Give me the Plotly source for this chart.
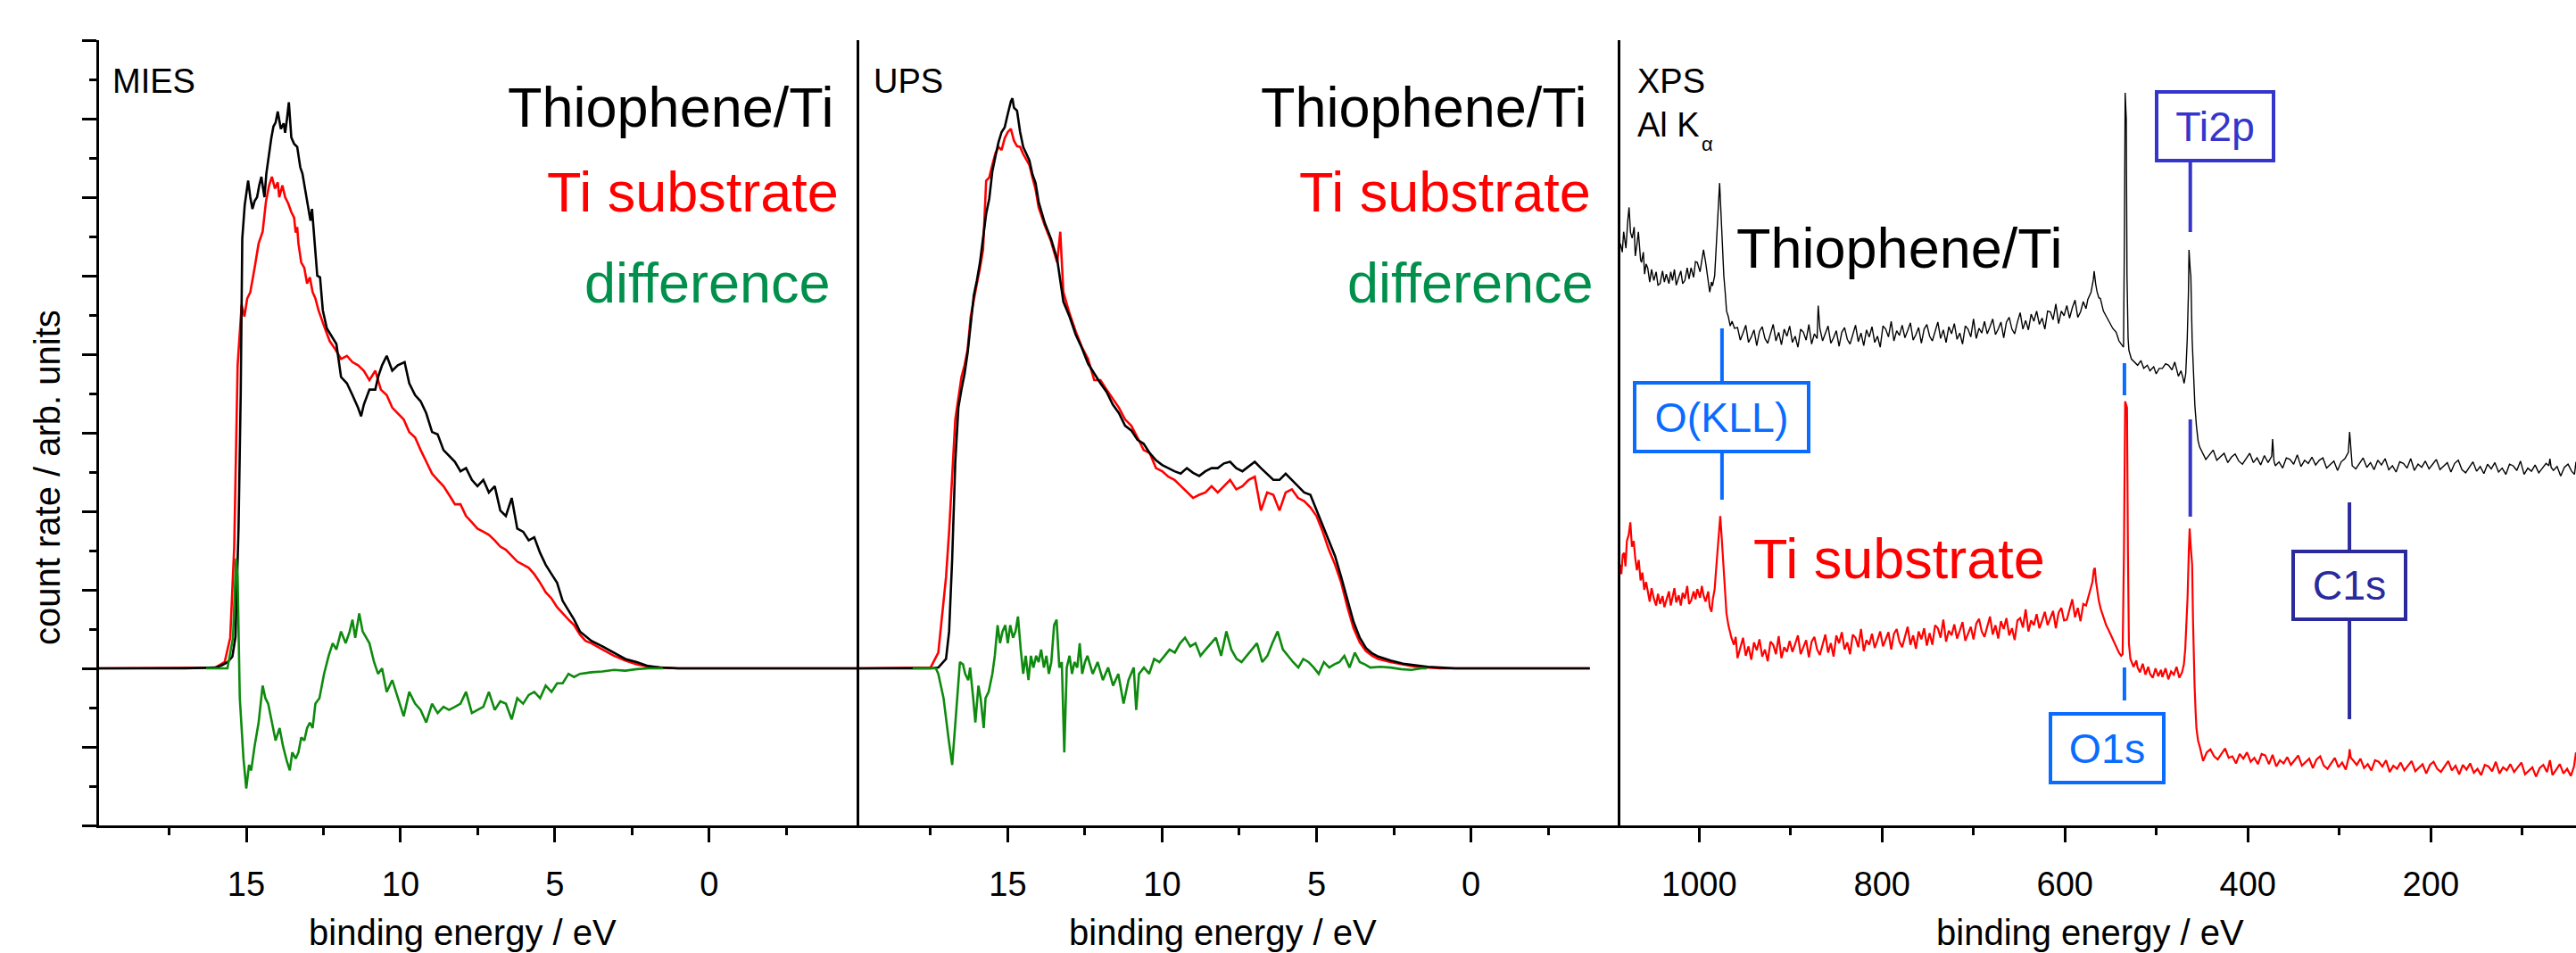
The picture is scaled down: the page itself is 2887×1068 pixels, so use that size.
import plotly.graph_objects as go

# ---------------- data (binding energy / eV, count rate / arb. units) ----------------
mies_film = [(19.77, 0.0), (17.0, 0.0), (16.0, 0.01), (15.79, 0.04), (15.6, 0.08), (15.45, 0.15), (15.35, 0.4),
             (15.25, 1.8), (15.18, 3.5), (15.13, 5.47), (15.05, 5.9), (14.99, 6.05), (14.94, 6.21), (14.87, 6.0),
             (14.8, 5.85), (14.73, 5.95), (14.65, 6.0), (14.58, 6.15), (14.51, 6.26), (14.45, 6.1), (14.41, 6.0),
             (14.35, 6.3), (14.26, 6.57), (14.19, 6.75), (14.12, 6.90), (14.05, 6.95), (13.98, 7.09), (13.92, 6.95),
             (13.88, 6.87), (13.79, 6.94), (13.74, 6.82), (13.68, 7.0), (13.62, 7.21), (13.54, 6.76), (13.45, 6.68),
             (13.35, 6.64), (13.25, 6.38), (13.18, 6.3), (13.11, 6.15), (13.01, 5.92), (12.92, 5.70), (12.87, 5.85),
             (12.79, 5.4), (12.70, 5.0), (12.61, 4.98), (12.52, 4.56), (12.39, 4.33), (12.20, 4.21), (12.08, 4.13),
             (11.93, 3.71), (11.74, 3.63), (11.56, 3.48), (11.38, 3.32), (11.28, 3.21), (11.19, 3.36), (11.01, 3.55),
             (10.82, 3.55), (10.73, 3.71), (10.60, 3.86), (10.45, 3.98), (10.27, 3.79), (10.09, 3.86), (9.87, 3.90),
             (9.72, 3.63), (9.53, 3.48), (9.35, 3.40), (9.17, 3.25), (8.98, 3.01), (8.80, 2.98), (8.61, 2.78),
             (8.43, 2.71), (8.24, 2.63), (8.06, 2.51), (7.88, 2.55), (7.69, 2.40), (7.51, 2.32), (7.32, 2.40),
             (7.14, 2.24), (6.95, 2.32), (6.77, 2.01), (6.59, 1.94), (6.40, 2.17), (6.22, 1.78), (6.03, 1.74),
             (5.85, 1.63), (5.67, 1.67), (5.48, 1.47), (5.30, 1.32), (5.11, 1.20), (4.93, 1.09), (4.75, 0.86),
             (4.56, 0.74), (4.38, 0.62), (4.19, 0.47), (3.82, 0.35), (3.46, 0.28), (3.09, 0.20), (2.72, 0.12),
             (2.35, 0.08), (1.98, 0.03), (1.61, 0.01), (1.0, 0.0), (-4.86, 0.0)]

mies_sub = [(19.77, 0.0), (16.0, 0.01), (15.70, 0.08), (15.52, 0.39), (15.39, 1.55), (15.28, 3.86), (15.15, 4.63),
            (15.06, 4.48), (14.97, 4.71), (14.87, 4.79), (14.73, 5.10), (14.60, 5.41), (14.47, 5.56), (14.36, 5.95),
            (14.26, 6.15), (14.17, 6.26), (14.07, 6.11), (13.98, 6.19), (13.93, 6.0), (13.83, 6.15), (13.74, 6.0),
            (13.64, 5.92), (13.54, 5.81), (13.45, 5.74), (13.40, 5.55), (13.35, 5.62), (13.31, 5.41), (13.22, 5.17),
            (13.12, 5.10), (13.03, 4.90), (12.94, 4.98), (12.85, 4.79), (12.76, 4.71), (12.66, 4.56), (12.48, 4.36),
            (12.30, 4.17), (12.11, 4.06), (11.93, 3.94), (11.74, 3.98), (11.56, 3.90), (11.38, 3.86), (11.19, 3.79),
            (11.01, 3.67), (10.82, 3.79), (10.64, 3.55), (10.45, 3.48), (10.27, 3.32), (10.09, 3.25), (9.90, 3.17),
            (9.72, 3.01), (9.53, 2.94), (9.35, 2.78), (9.17, 2.63), (8.98, 2.48), (8.80, 2.40), (8.61, 2.32),
            (8.43, 2.21), (8.24, 2.09), (8.06, 2.09), (7.88, 1.94), (7.69, 1.86), (7.51, 1.78), (7.32, 1.74),
            (7.14, 1.70), (6.95, 1.63), (6.77, 1.55), (6.59, 1.51), (6.40, 1.43), (6.22, 1.36), (6.03, 1.32),
            (5.85, 1.28), (5.67, 1.20), (5.48, 1.09), (5.30, 0.97), (5.11, 0.89), (4.93, 0.78), (4.75, 0.70),
            (4.56, 0.62), (4.38, 0.55), (4.19, 0.43), (4.01, 0.35), (3.82, 0.32), (3.46, 0.24), (3.09, 0.16),
            (2.72, 0.10), (2.35, 0.05), (1.98, 0.02), (1.61, 0.01), (1.0, 0.0), (-4.86, 0.0)]

mies_diff = [(16.3, 0.0), (15.61, 0.0), (15.43, 0.39), (15.33, 1.40), (15.28, 1.16), (15.21, -0.38), (15.09, -1.15),
             (15.00, -1.53), (14.91, -1.23), (14.84, -1.30), (14.73, -0.99), (14.60, -0.69), (14.47, -0.22),
             (14.38, -0.38), (14.29, -0.45), (14.17, -0.69), (14.05, -0.92), (13.92, -0.76), (13.81, -0.99),
             (13.68, -1.19), (13.59, -1.30), (13.51, -1.07), (13.40, -1.15), (13.31, -1.07), (13.22, -0.88),
             (13.12, -0.92), (13.03, -0.76), (12.94, -0.69), (12.85, -0.76), (12.76, -0.45), (12.63, -0.38),
             (12.48, -0.07), (12.33, 0.16), (12.20, 0.32), (12.08, 0.24), (11.93, 0.47), (11.78, 0.32), (11.65, 0.47),
             (11.56, 0.62), (11.47, 0.39), (11.34, 0.70), (11.23, 0.47), (11.10, 0.39), (11.01, 0.32), (10.86, 0.08),
             (10.73, -0.07), (10.60, 0.0), (10.45, -0.30), (10.27, -0.15), (10.09, -0.38), (9.90, -0.61),
             (9.72, -0.30), (9.53, -0.45), (9.35, -0.53), (9.17, -0.69), (8.98, -0.45), (8.80, -0.57), (8.61, -0.49),
             (8.43, -0.53), (8.24, -0.49), (8.06, -0.45), (7.88, -0.30), (7.69, -0.57), (7.51, -0.53), (7.32, -0.49),
             (7.14, -0.30), (6.95, -0.53), (6.77, -0.42), (6.59, -0.45), (6.40, -0.65), (6.22, -0.38), (6.03, -0.45),
             (5.85, -0.34), (5.67, -0.30), (5.48, -0.38), (5.30, -0.22), (5.11, -0.30), (4.93, -0.19), (4.75, -0.19),
             (4.56, -0.07), (4.38, -0.11), (4.19, -0.07), (3.82, -0.05), (3.46, -0.04), (3.09, -0.02), (2.72, -0.03),
             (2.35, -0.01), (1.98, 0.0), (1.5, 0.0)]

ups_film = [(19.81, 0.0), (17.5, 0.0), (17.25, 0.01), (17.0, 0.12), (16.9, 0.47), (16.8, 1.40), (16.7, 2.63),
            (16.6, 3.32), (16.5, 3.55), (16.4, 3.75), (16.3, 4.02), (16.2, 4.40), (16.1, 4.75), (16.0, 4.94),
            (15.9, 5.17), (15.8, 5.48), (15.7, 5.79), (15.6, 5.98), (15.5, 6.33), (15.4, 6.52), (15.3, 6.70),
            (15.2, 6.83), (15.1, 6.89), (15.0, 7.06), (14.9, 7.22), (14.85, 7.26), (14.8, 7.14), (14.7, 7.10),
            (14.6, 6.83), (14.5, 6.64), (14.4, 6.55), (14.3, 6.47), (14.2, 6.29), (14.1, 6.18), (14.0, 5.94),
            (13.8, 5.67), (13.6, 5.47), (13.4, 5.21), (13.2, 4.67), (13.0, 4.48), (12.8, 4.25), (12.6, 4.08),
            (12.4, 3.88), (12.2, 3.75), (12.0, 3.63), (11.8, 3.52), (11.6, 3.36), (11.4, 3.25), (11.2, 3.09),
            (11.0, 3.03), (10.8, 2.91), (10.6, 2.86), (10.4, 2.74), (10.2, 2.65), (10.0, 2.59), (9.8, 2.55),
            (9.6, 2.51), (9.4, 2.48), (9.2, 2.55), (9.0, 2.49), (8.8, 2.45), (8.6, 2.51), (8.4, 2.55), (8.2, 2.55),
            (8.0, 2.61), (7.8, 2.63), (7.6, 2.55), (7.4, 2.51), (7.2, 2.57), (7.0, 2.63), (6.8, 2.55), (6.6, 2.48),
            (6.4, 2.40), (6.2, 2.40), (6.0, 2.48), (5.8, 2.40), (5.6, 2.32), (5.4, 2.24), (5.2, 2.21), (5.0, 2.01),
            (4.8, 1.82), (4.6, 1.63), (4.4, 1.43), (4.2, 1.16), (4.0, 0.86), (3.8, 0.59), (3.6, 0.39), (3.4, 0.26),
            (3.2, 0.19), (3.0, 0.15), (2.6, 0.10), (2.2, 0.06), (1.8, 0.04), (1.4, 0.02), (1.0, 0.01), (0.5, 0.0),
            (-3.85, 0.0)]

ups_sub = [(19.81, 0.0), (17.5, 0.01), (17.25, 0.20), (17.0, 1.16), (16.9, 1.74), (16.8, 2.40), (16.7, 3.17),
           (16.6, 3.44), (16.5, 3.71), (16.4, 3.86), (16.3, 4.06), (16.2, 4.48), (16.1, 4.71), (16.0, 4.90),
           (15.9, 5.10), (15.8, 5.33), (15.7, 6.21), (15.6, 6.25), (15.5, 6.41), (15.4, 6.56), (15.3, 6.64),
           (15.2, 6.60), (15.1, 6.75), (15.0, 6.83), (14.9, 6.87), (14.8, 6.72), (14.7, 6.65), (14.6, 6.64),
           (14.5, 6.55), (14.4, 6.48), (14.3, 6.41), (14.2, 6.25), (14.1, 6.10), (14.0, 5.87), (13.8, 5.64),
           (13.6, 5.44), (13.4, 5.17), (13.3, 5.56), (13.2, 4.79), (13.0, 4.52), (12.8, 4.29), (12.6, 4.09),
           (12.4, 3.94), (12.2, 3.67), (12.0, 3.67), (11.8, 3.55), (11.6, 3.44), (11.4, 3.32), (11.2, 3.17),
           (11.0, 3.09), (10.8, 2.94), (10.6, 2.78), (10.4, 2.74), (10.2, 2.55), (10.0, 2.51), (9.8, 2.44),
           (9.6, 2.40), (9.4, 2.32), (9.2, 2.24), (9.0, 2.17), (8.8, 2.21), (8.6, 2.24), (8.4, 2.32), (8.2, 2.24),
           (8.0, 2.32), (7.8, 2.40), (7.6, 2.28), (7.4, 2.32), (7.2, 2.40), (7.0, 2.44), (6.8, 2.01), (6.6, 2.24),
           (6.4, 2.21), (6.2, 2.01), (6.0, 2.24), (5.8, 2.28), (5.6, 2.17), (5.4, 2.13), (5.2, 2.05), (5.0, 1.94),
           (4.8, 1.74), (4.6, 1.51), (4.4, 1.32), (4.2, 1.09), (4.0, 0.78), (3.8, 0.51), (3.6, 0.33), (3.4, 0.22),
           (3.2, 0.16), (3.0, 0.12), (2.6, 0.08), (2.2, 0.05), (1.8, 0.02), (1.0, 0.0), (-3.85, 0.0)]

ups_diff = [(18.08, 0.0), (17.33, 0.0), (17.25, -0.07), (17.08, -0.38), (16.91, -0.92), (16.80, -1.23),
            (16.71, -0.76), (16.61, -0.22), (16.55, 0.08), (16.45, 0.05), (16.38, -0.07), (16.28, -0.15),
            (16.22, 0.01), (16.12, -0.38), (16.05, -0.69), (15.95, -0.22), (15.88, -0.38), (15.78, -0.76),
            (15.72, -0.38), (15.62, -0.30), (15.50, -0.07), (15.42, 0.16), (15.33, 0.55), (15.25, 0.32),
            (15.17, 0.47), (15.08, 0.55), (15.00, 0.32), (14.92, 0.55), (14.83, 0.39), (14.75, 0.47), (14.67, 0.66),
            (14.58, 0.24), (14.50, -0.07), (14.42, 0.16), (14.33, -0.15), (14.25, 0.16), (14.17, 0.01),
            (14.08, 0.16), (14.0, 0.08), (13.92, 0.24), (13.83, 0.01), (13.75, 0.16), (13.67, -0.07), (13.59, 0.08),
            (13.50, 0.55), (13.42, 0.62), (13.33, 0.01), (13.25, 0.08), (13.17, -1.07), (13.09, 0.01), (13.0, 0.16),
            (12.92, -0.07), (12.84, 0.08), (12.75, 0.01), (12.67, 0.32), (12.59, -0.07), (12.50, 0.08),
            (12.42, 0.16), (12.25, -0.07), (12.09, 0.08), (11.92, -0.15), (11.75, 0.01), (11.59, -0.22),
            (11.42, -0.07), (11.25, -0.45), (11.09, -0.15), (10.92, 0.01), (10.84, -0.53), (10.75, -0.07),
            (10.59, 0.01), (10.42, -0.07), (10.26, 0.12), (10.09, 0.08), (9.92, 0.16), (9.76, 0.24), (9.59, 0.20),
            (9.42, 0.32), (9.26, 0.39), (9.09, 0.28), (8.92, 0.32), (8.76, 0.16), (8.59, 0.24), (8.42, 0.32),
            (8.26, 0.39), (8.09, 0.16), (7.92, 0.47), (7.76, 0.24), (7.59, 0.12), (7.43, 0.08), (7.26, 0.16),
            (7.09, 0.24), (6.93, 0.32), (6.76, 0.08), (6.59, 0.16), (6.43, 0.32), (6.26, 0.47), (6.09, 0.24),
            (5.93, 0.16), (5.76, 0.08), (5.59, 0.01), (5.43, 0.12), (5.26, 0.08), (5.09, 0.01), (4.93, -0.07),
            (4.76, 0.08), (4.59, 0.01), (4.43, 0.05), (4.26, 0.08), (4.10, 0.16), (3.93, 0.01), (3.76, 0.20),
            (3.60, 0.08), (3.43, 0.05), (3.26, 0.01), (2.93, 0.02), (2.60, 0.01), (2.27, -0.01), (1.93, -0.02),
            (1.60, 0.0), (1.43, 0.0)]

xps_film = [(1086.1, 5.41), (1084, 5.30), (1082.5, 5.56), (1080, 5.35), (1078, 5.70), (1076.6, 5.87), (1075, 5.55),
            (1073.2, 5.48), (1071, 5.62), (1069.8, 5.25), (1068, 5.40), (1066.4, 5.56), (1064, 5.20), (1063.0, 5.17),
            (1061, 5.30), (1059.6, 5.02), (1058, 5.15), (1056.2, 5.10), (1054, 4.92), (1052, 5.08), (1049.5, 4.94),
            (1047, 5.05), (1045, 4.88), (1042.7, 4.90), (1040, 5.06), (1038, 4.92), (1035.9, 5.02), (1033, 4.90),
            (1031, 5.05), (1029.1, 4.94), (1027, 5.08), (1025, 4.88), (1022.3, 4.98), (1020, 5.06), (1018, 4.90),
            (1015.6, 4.94), (1013, 5.10), (1011, 4.96), (1008.8, 5.10), (1006, 4.98), (1004, 5.18), (1002.0, 5.17),
            (999, 5.05), (997, 5.22), (995.2, 5.33), (993, 5.18), (991.8, 5.06), (990, 4.95), (988.4, 4.79),
            (986.5, 4.92), (985.3, 4.87), (983.0, 5.00), (981.7, 5.25), (979.6, 5.79), (977.6, 6.18), (976.5, 5.90),
            (974.9, 5.48), (973, 5.00), (971.5, 4.79), (970, 4.55), (968.1, 4.48), (966, 4.36), (964, 4.42),
            (961.3, 4.33), (958, 4.34), (955, 4.18), (952, 4.27), (949, 4.37), (946, 4.15), (943, 4.22), (940, 4.31),
            (937, 4.11), (934, 4.29), (931, 4.35), (928, 4.20), (925, 4.14), (922, 4.26), (919, 4.38), (916, 4.17),
            (913, 4.28), (910, 4.12), (907, 4.32), (904, 4.23), (901, 4.36), (898, 4.15), (895, 4.23), (892, 4.09),
            (889, 4.32), (886, 4.28), (883, 4.18), (880, 4.38), (877, 4.13), (874, 4.26), (871, 4.20), (869.8, 4.62),
            (868, 4.33), (865, 4.17), (862, 4.26), (859, 4.36), (856, 4.14), (853, 4.21), (850, 4.30), (847, 4.10),
            (844, 4.28), (841, 4.34), (838, 4.19), (835, 4.13), (832, 4.25), (829, 4.37), (826, 4.16), (823, 4.27),
            (820, 4.11), (817, 4.31), (814, 4.22), (811, 4.35), (808, 4.15), (805, 4.23), (802, 4.09), (799, 4.36),
            (796, 4.32), (793, 4.22), (790, 4.42), (787, 4.17), (784, 4.30), (781, 4.24), (778, 4.37), (775, 4.21),
            (772, 4.30), (769, 4.40), (766, 4.18), (763, 4.25), (760, 4.34), (757, 4.14), (754, 4.32), (751, 4.38),
            (748, 4.23), (745, 4.17), (742, 4.29), (739, 4.41), (736, 4.20), (733, 4.31), (730, 4.15), (727, 4.35),
            (724, 4.26), (721, 4.39), (718, 4.19), (715, 4.27), (712, 4.13), (709, 4.36), (706, 4.32), (703, 4.22),
            (700, 4.45), (697, 4.20), (694, 4.33), (691, 4.27), (688, 4.42), (685, 4.26), (682, 4.35), (679, 4.45),
            (676, 4.25), (673, 4.32), (670, 4.41), (667, 4.21), (664, 4.41), (661, 4.47), (658, 4.32), (655, 4.26),
            (652, 4.41), (649, 4.53), (646, 4.32), (643, 4.43), (640, 4.31), (637, 4.51), (634, 4.42), (631, 4.55),
            (628, 4.38), (625, 4.46), (622, 4.32), (619, 4.55), (616, 4.54), (613, 4.44), (610, 4.64), (607, 4.39),
            (604, 4.55), (601, 4.49), (598, 4.62), (595, 4.46), (592, 4.59), (589, 4.69), (586, 4.47), (583, 4.54),
            (580, 4.67), (577, 4.58), (575, 4.70), (573, 4.75), (571.5, 4.79), (569, 4.95), (568.1, 5.06),
            (566.5, 4.90), (565, 4.80), (563, 4.72), (561.3, 4.71), (558, 4.55), (554.5, 4.48), (551, 4.40),
            (547.8, 4.33), (544, 4.28), (541.0, 4.17), (538, 4.12), (536.0, 4.09), (535, 5.5), (534.2, 7.33),
            (533, 7.0), (532.2, 5.0), (531, 4.2), (530.1, 4.05), (527.4, 3.94), (524, 3.90), (520.6, 3.86),
            (517, 3.92), (513.9, 3.82), (510, 3.86), (507.1, 3.79), (503, 3.84), (500.3, 3.75), (497, 3.82),
            (493.5, 3.82), (490, 3.88), (486.7, 3.86), (483, 3.80), (480.0, 3.90), (476, 3.72), (473.2, 3.79),
            (471, 3.70), (469.8, 3.63), (468, 3.75), (466.4, 4.17), (465, 4.8), (464.4, 5.33), (463, 5.06),
            (462.4, 5.0), (461, 4.2), (459.6, 3.71), (458, 3.35), (456.3, 3.09), (454.5, 2.90), (452.8, 2.82),
            (450, 2.76), (446, 2.66), (442, 2.72), (438, 2.78), (434, 2.65), (430, 2.69), (426, 2.74), (422, 2.62),
            (418, 2.69), (414, 2.73), (410, 2.64), (406, 2.60), (402, 2.67), (398, 2.74), (394, 2.62), (390, 2.68),
            (386, 2.59), (382, 2.71), (378, 2.62), (374, 2.70), (373, 2.92), (371.5, 2.64), (370, 2.58), (366, 2.63),
            (362, 2.55), (358, 2.68), (354, 2.66), (350, 2.60), (346, 2.72), (342, 2.57), (338, 2.65), (334, 2.61),
            (330, 2.69), (326, 2.59), (322, 2.65), (318, 2.68), (314, 2.55), (310, 2.59), (306, 2.64), (302, 2.52),
            (298, 2.63), (294, 2.67), (290.2, 2.75), (288.8, 3.01), (287.5, 2.80), (286, 2.58), (282, 2.54),
            (278, 2.61), (274, 2.68), (270, 2.56), (266, 2.62), (262, 2.53), (258, 2.65), (254, 2.59), (250, 2.67),
            (246, 2.53), (242, 2.58), (238, 2.50), (234, 2.63), (230, 2.61), (226, 2.55), (222, 2.67), (218, 2.52),
            (214, 2.60), (210, 2.56), (206, 2.64), (202, 2.54), (198, 2.60), (194, 2.66), (190, 2.53), (186, 2.57),
            (182, 2.62), (178, 2.50), (174, 2.61), (170, 2.65), (166, 2.53), (162, 2.49), (158, 2.56), (154, 2.63),
            (150, 2.51), (146, 2.57), (142, 2.48), (138, 2.60), (134, 2.54), (130, 2.62), (126, 2.50), (122, 2.55),
            (118, 2.47), (114, 2.60), (110, 2.58), (106, 2.52), (102, 2.64), (98, 2.47), (94, 2.55), (90, 2.51),
            (86, 2.59), (82, 2.49), (78, 2.55), (74, 2.61), (71, 2.58), (69.8, 2.67), (68.5, 2.56), (66, 2.52),
            (62, 2.57), (58, 2.45), (54, 2.56), (50, 2.60), (46, 2.51), (43, 2.47), (41.3, 2.63)]

xps_sub = [(1086.1, 1.32), (1085, 1.20), (1083.5, 1.45), (1082, 1.47), (1080.5, 1.30), (1079, 1.62), (1077, 1.70),
           (1075.2, 1.86), (1073.5, 1.55), (1071.5, 1.62), (1069.8, 1.40), (1068, 1.25), (1066, 1.38), (1064, 1.12),
           (1062, 1.22), (1060, 1.00), (1058, 1.10), (1056.2, 0.97), (1054, 0.85), (1052, 1.02), (1049.5, 0.89),
           (1047, 0.80), (1045, 0.95), (1042.7, 0.82), (1040, 0.92), (1038, 0.78), (1035.9, 0.86), (1033, 0.98),
           (1031, 0.80), (1029.1, 0.90), (1027, 1.02), (1025, 0.84), (1022.3, 0.93), (1020, 0.80), (1018, 0.96),
           (1015.6, 0.89), (1013, 1.05), (1011, 0.82), (1008.8, 0.86), (1006, 0.98), (1004, 0.88), (1002.0, 1.01),
           (999, 0.90), (997, 1.05), (995.2, 0.93), (993, 0.85), (990, 0.98), (988.4, 0.78), (986.5, 0.72),
           (985, 0.88), (983.0, 1.01), (981.5, 1.25), (979.6, 1.55), (976.9, 1.94), (975.5, 1.70), (973.5, 1.32),
           (972, 0.95), (970.1, 0.70), (968, 0.55), (966, 0.45), (964.7, 0.39), (962, 0.30), (960, 0.40),
           (958, 0.13), (955, 0.26), (952, 0.39), (949, 0.16), (946, 0.28), (943, 0.11), (940, 0.33), (937, 0.23),
           (934, 0.37), (931, 0.15), (928, 0.24), (925, 0.09), (922, 0.34), (919, 0.30), (916, 0.18), (913, 0.41),
           (910, 0.13), (907, 0.27), (904, 0.21), (901, 0.35), (898, 0.21), (895, 0.31), (892, 0.42), (889, 0.18),
           (886, 0.26), (883, 0.36), (880, 0.14), (877, 0.34), (874, 0.40), (871, 0.24), (868, 0.17), (865, 0.30),
           (862, 0.43), (859, 0.20), (856, 0.32), (853, 0.15), (850, 0.42), (847, 0.32), (844, 0.46), (841, 0.24),
           (838, 0.33), (835, 0.18), (832, 0.43), (829, 0.39), (826, 0.27), (823, 0.50), (820, 0.22), (817, 0.36),
           (814, 0.30), (811, 0.44), (808, 0.26), (805, 0.36), (802, 0.47), (799, 0.28), (796, 0.36), (793, 0.46),
           (790, 0.24), (787, 0.44), (784, 0.50), (781, 0.34), (778, 0.27), (775, 0.40), (772, 0.53), (769, 0.30),
           (766, 0.42), (763, 0.25), (760, 0.47), (757, 0.37), (754, 0.51), (751, 0.29), (748, 0.45), (745, 0.30),
           (742, 0.55), (739, 0.51), (736, 0.39), (733, 0.62), (730, 0.34), (727, 0.48), (724, 0.42), (721, 0.56),
           (718, 0.38), (715, 0.48), (712, 0.59), (709, 0.35), (706, 0.43), (703, 0.53), (700, 0.37), (697, 0.57),
           (694, 0.63), (691, 0.47), (688, 0.40), (685, 0.53), (682, 0.66), (679, 0.43), (676, 0.55), (673, 0.38),
           (670, 0.60), (667, 0.50), (664, 0.64), (661, 0.42), (658, 0.51), (655, 0.36), (652, 0.61), (649, 0.64),
           (646, 0.52), (643, 0.75), (640, 0.47), (637, 0.61), (634, 0.55), (631, 0.69), (628, 0.51), (625, 0.61),
           (622, 0.72), (619, 0.55), (616, 0.63), (613, 0.73), (610, 0.51), (607, 0.71), (604, 0.77), (601, 0.61),
           (598, 0.62), (595, 0.75), (592, 0.88), (589, 0.65), (586, 0.77), (583, 0.60), (580, 0.82), (577, 0.80),
           (574, 0.92), (572, 1.00), (570, 1.10), (568.5, 1.25), (567.4, 1.28), (566, 1.10), (564.5, 0.95),
           (563, 0.86), (561, 0.76), (558, 0.66), (555, 0.55), (552, 0.48), (549, 0.40), (546, 0.32), (543, 0.26),
           (541, 0.20), (538.5, 0.16), (537, 0.18), (535.5, 1.5), (534.2, 3.40), (533, 3.35), (532.2, 3.32),
           (531.2, 1.5), (530.1, 0.32), (528.5, 0.12), (527.4, 0.08), (525, 0.02), (522, 0.10), (520.6, 0.01),
           (518, -0.05), (515, 0.06), (512, -0.08), (509, 0.02), (507, -0.07), (504, -0.12), (501, 0.00),
           (498, -0.10), (495, -0.02), (493.5, -0.11), (490, 0.00), (487, -0.14), (484, -0.04), (481, -0.08),
           (478, 0.02), (475, -0.12), (472, -0.05), (470, 0.05), (468.5, 0.25), (467.8, 0.39), (466, 0.9),
           (464.6, 1.5), (463.7, 1.78), (462.5, 1.55), (461.0, 1.32), (460, 0.6), (459, 0.0), (458.3, -0.22),
           (457.2, -0.55), (456.3, -0.76), (454.5, -0.92), (452.8, -0.99), (449, -1.18), (445, -1.07), (441, -1.03),
           (437, -1.12), (433, -1.16), (429, -1.09), (425, -1.02), (421, -1.14), (417, -1.12), (413, -1.21),
           (409, -1.09), (405, -1.15), (401, -1.07), (397, -1.19), (393, -1.14), (389, -1.22), (385, -1.09),
           (381, -1.11), (377, -1.22), (373, -1.10), (369, -1.25), (365, -1.17), (361, -1.21), (357, -1.13),
           (353, -1.23), (349, -1.17), (345, -1.11), (341, -1.24), (337, -1.20), (333, -1.15), (329, -1.27),
           (325, -1.16), (321, -1.12), (317, -1.24), (313, -1.28), (309, -1.21), (305, -1.14), (301, -1.26),
           (297, -1.20), (293, -1.29), (289.5, -1.12), (288.8, -1.03), (287.5, -1.14), (285, -1.17), (281, -1.23),
           (277, -1.15), (273, -1.27), (269, -1.22), (265, -1.30), (261, -1.17), (257, -1.19), (253, -1.25),
           (249, -1.17), (245, -1.32), (241, -1.24), (237, -1.28), (233, -1.20), (229, -1.30), (225, -1.24),
           (221, -1.18), (217, -1.31), (213, -1.27), (209, -1.22), (205, -1.34), (201, -1.23), (197, -1.19),
           (193, -1.28), (189, -1.32), (185, -1.25), (181, -1.18), (177, -1.30), (173, -1.24), (169, -1.35),
           (165, -1.23), (161, -1.29), (157, -1.21), (153, -1.33), (149, -1.28), (145, -1.36), (141, -1.23),
           (137, -1.25), (133, -1.31), (129, -1.19), (125, -1.34), (121, -1.26), (117, -1.30), (113, -1.22),
           (109, -1.32), (105, -1.26), (101, -1.20), (97, -1.35), (93, -1.31), (89, -1.26), (85, -1.38),
           (81, -1.27), (77, -1.23), (73, -1.32), (69.8, -1.17), (67, -1.36), (63, -1.29), (59, -1.22),
           (55, -1.34), (51, -1.28), (47, -1.37), (43.5, -1.25), (41.3, -1.07)]

# XPS peak assignments (binding energy / eV)
peak_names = ["O(KLL)", "O1s", "Ti2p", "C1s"]
peak_energies = [975, 535, 463, 289]

# ---------------- layout helpers ----------------
W, H = 2887, 1068
ML, MR, MT, MB = 111, 0, 45, 143
PW, PH = W - ML - MR, H - MT - MB
FONT = "Liberation Sans, Arial, sans-serif"
BLACK, RED, GREEN, GREEN_TXT = "#000000", "#FF0000", "#0E8A0E", "#00904C"
BLUE_O, BLUE_TI, BLUE_C = "#0A6BFF", "#3535CC", "#2A2A9C"


def px(x):
    return (x - ML) / PW


def py(y):
    return 1 - (y - MT) / PH


def split(pairs):
    return [p[0] for p in pairs], [p[1] for p in pairs]


D1 = [0.0, px(963)]
D2 = [px(963), px(1816)]
D3 = [px(1816), 1.0]
R1 = [19.77, -4.86]
R2 = [19.81, -4.84]
R3 = [1086.1, 41.3]
YR = [-2, 8]

fig = go.Figure()


def add(pairs, xa, ya, color, width):
    x, y = split(pairs)
    fig.add_trace(go.Scatter(x=x, y=y, xaxis=xa, yaxis=ya, mode="lines",
                             line=dict(color=color, width=width), hoverinfo="skip"))


add(mies_sub, "x", "y", RED, 2.6)
add(mies_film, "x", "y", BLACK, 2.6)
add(mies_diff, "x", "y", GREEN, 2.6)
add(ups_sub, "x2", "y2", RED, 2.6)
add(ups_film, "x2", "y2", BLACK, 2.6)
add(ups_diff, "x2", "y2", GREEN, 2.6)
add(xps_sub, "x3", "y3", RED, 2.2)
add(xps_film, "x3", "y3", BLACK, 1.4)

tickfont = dict(family=FONT, size=38, color=BLACK)


def xbottom(dom, rng, dtick, minor):
    return dict(domain=dom, range=rng, showline=True, linecolor=BLACK, linewidth=3,
                ticks="outside", ticklen=16, tickwidth=3, tickcolor=BLACK,
                tick0=0, dtick=dtick, tickfont=tickfont, ticklabelstandoff=14,
                minor=dict(dtick=minor, tick0=0, ticks="outside", ticklen=8, tickwidth=3, tickcolor=BLACK),
                showgrid=False, zeroline=False, mirror=False)


def xtop(over, anchor, rng, dtick, minor):
    return dict(overlaying=over, anchor=anchor, side="top", range=rng, showline=True, linecolor=BLACK,
                linewidth=3, ticks="inside", ticklen=16, tickwidth=3, tickcolor=BLACK, tick0=0, dtick=dtick,
                showticklabels=False,
                minor=dict(dtick=minor, tick0=0, ticks="inside", ticklen=8, tickwidth=3, tickcolor=BLACK),
                showgrid=False, zeroline=False)


fig.update_layout(
    width=W, height=H, margin=dict(l=ML, r=MR, t=MT, b=MB, pad=0),
    paper_bgcolor="white", plot_bgcolor="white", showlegend=False,
    xaxis=dict(anchor="y", **xbottom(D1, R1, 5, 2.5)),
    xaxis2=dict(anchor="y2", **xbottom(D2, R2, 5, 2.5)),
    xaxis3=dict(anchor="y3", **xbottom(D3, R3, 200, 100)),
    xaxis4=xtop("x", "y", R1, 5, 2.5),
    xaxis5=xtop("x2", "y2", R2, 5, 2.5),
    xaxis6=xtop("x3", "y3", R3, 200, 100),
    yaxis=dict(anchor="x", domain=[0, 1], range=YR, showline=True, linecolor=BLACK, linewidth=3,
               ticks="outside", ticklen=16, tickwidth=3, tickcolor=BLACK, tick0=0, dtick=1,
               showticklabels=False,
               minor=dict(dtick=0.5, tick0=0, ticks="outside", ticklen=8, tickwidth=3, tickcolor=BLACK),
               showgrid=False, zeroline=False),
    yaxis2=dict(anchor="x2", domain=[0, 1], range=YR, showline=True, linecolor=BLACK, linewidth=3,
                ticks="", showticklabels=False, showgrid=False, zeroline=False),
    yaxis3=dict(anchor="x3", domain=[0, 1], range=YR, showline=True, linecolor=BLACK, linewidth=3,
                ticks="", showticklabels=False, showgrid=False, zeroline=False),
)

ann = []


def text(t, x, y, size, color, xanchor="left", yanchor="top", **kw):
    ann.append(dict(text=t, x=px(x), y=py(y), xref="paper", yref="paper", xanchor=xanchor, yanchor=yanchor,
                    showarrow=False, font=dict(family=FONT, size=size, color=color), **kw))


# panel labels
text("MIES", 124, 68, 38, BLACK)
text("UPS", 977, 68, 38, BLACK)
text("XPS", 1833, 68, 38, BLACK)
text("Al K", 1833, 117, 38, BLACK)
text("α", 1905, 147, 22, BLACK)

# in-panel legend texts
text("Thiophene/Ti", 936, 83, 63, BLACK, xanchor="right")
text("Ti substrate", 942, 178, 63, RED, xanchor="right")
text("difference", 933, 280, 63, GREEN_TXT, xanchor="right")
text("Thiophene/Ti", 1780, 83, 63, BLACK, xanchor="right")
text("Ti substrate", 1785, 178, 63, RED, xanchor="right")
text("difference", 1788, 280, 63, GREEN_TXT, xanchor="right")
text("Thiophene/Ti", 1944, 241, 63, BLACK)
text("Ti substrate", 1963, 589, 63, RED)

# axis titles
for cx in (518, 1370, 2342):
    text("binding energy / eV", cx, 1021, 40, BLACK, xanchor="center")
text("count rate / arb. units", 53, 535, 40, BLACK, xanchor="center", yanchor="middle", textangle=-90)

# XPS peak boxes
box_style = [  # (colour, x shift px, box centre y px, inner width, inner height)
    (BLUE_O, 0, 467.8, 191, 73),
    (BLUE_O, -19, 838.7, 123, 73),
    (BLUE_TI, 28, 141.3, 127, 73),
    (BLUE_C, 0, 655.8, 122, 72),
]
for name, e, (col, dx, cy, w, h) in zip(peak_names, peak_energies, box_style):
    ann.append(dict(text=name, x=e, y=py(cy), xref="x3", yref="paper", xshift=dx, xanchor="center",
                    yanchor="middle", showarrow=False, width=w, height=h, align="center", valign="middle",
                    bordercolor=col, borderwidth=4, borderpad=0, bgcolor="white",
                    font=dict(family=FONT, size=46.5, color=col)))

seg_px = {
    "O(KLL)": [(368, 427), (508, 560)],
    "O1s": [(407, 443), (748, 785)],
    "Ti2p": [(182, 260), (470, 579)],
    "C1s": [(563, 616), (696, 806)],
}
cols = {"O(KLL)": BLUE_O, "O1s": BLUE_O, "Ti2p": BLUE_TI, "C1s": BLUE_C}
shapes = []
for name, e in zip(peak_names, peak_energies):
    for a, b in seg_px[name]:
        shapes.append(dict(type="line", xref="x3", yref="paper", x0=e, x1=e, y0=py(a), y1=py(b),
                           line=dict(color=cols[name], width=4), layer="above"))

fig.update_layout(annotations=ann, shapes=shapes)

fig.write_html("out.html", config={"displayModeBar": False},
               post_script="document.body.style.margin='0';document.body.style.overflow='hidden';")
